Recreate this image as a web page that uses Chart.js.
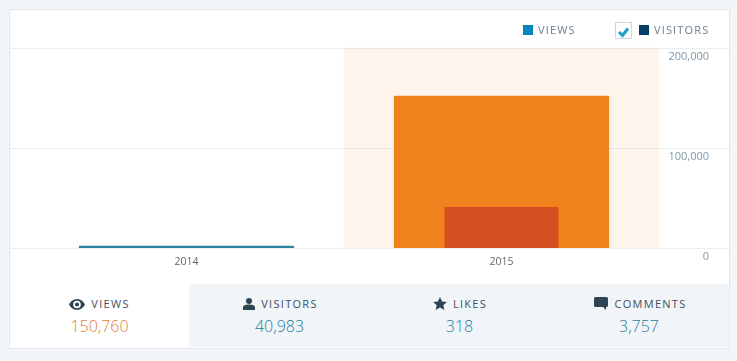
<!DOCTYPE html>
<html>
<head>
<meta charset="utf-8">
<script src="https://cdn.jsdelivr.net/npm/chart.js@4"></script>
<style>
  html, body { margin: 0; padding: 0; background: #f3f6f8; }
  body { width: 737px; height: 361px; overflow: hidden; position: relative; font-family: "Open Sans", sans-serif; }
  .card { position: absolute; left: 9px; top: 9px; width: 719px; height: 338px; background: #fff; border: 1px solid #e1e7ec; }
  .wrap { position: absolute; left: 10px; top: 33px; width: 719px; height: 251px; }
  .legend { position: absolute; top: 23px; font-size: 11px; letter-spacing: 1.15px; color: #6d7f8e; line-height: 14px; }
  .swatch { position: absolute; top: 25px; width: 10px; height: 10px; }
  .check { position: absolute; left: 615px; top: 22px; width: 15px; height: 15px; border: 1px solid #c8d7e1; }
  .tabs { position: absolute; left: 10px; top: 284px; width: 719px; height: 63px; }
  .tab { position: absolute; top: 0; height: 63px; text-align: center; }
  .tab .label { position: absolute; top: 12px; left: 0; right: 0; font-size: 11px; letter-spacing: 1.3px; color: #3d4f5e; line-height: 16px; }
  .tab .value { position: absolute; top: 31px; left: 0; right: 0; font-size: 16px; font-weight: 300; line-height: 22px; color: #1f7da6; }
  .tab svg { vertical-align: -2px; margin-right: 6px; }
</style>
</head>
<body>
<div class="card"></div>
<div class="wrap"><canvas id="chart" width="719" height="251"></canvas></div>

<div class="swatch" style="left:523px;background:#0a85bb"></div>
<div class="legend" style="left:538px">VIEWS</div>
<div class="check"><svg width="15" height="15" viewBox="0 0 15 15"><path d="M3 7 L6.5 10.5 L12 3.5" fill="none" stroke="#1a9fc9" stroke-width="3"/></svg></div>
<div class="swatch" style="left:639px;background:#063f66"></div>
<div class="legend" style="left:654px">VISITORS</div>

<div class="tabs">
  <div class="tab" style="left:0;width:179px;background:#fff">
    <div class="label"><svg width="16" height="11" viewBox="0 0 16 11"><path d="M8 0C4.5 0 1.6 2.2 0 5.5 1.6 8.8 4.5 11 8 11s6.4-2.2 8-5.5C14.4 2.2 11.5 0 8 0zm0 9.3a3.8 3.8 0 1 1 0-7.6 3.8 3.8 0 0 1 0 7.6zM8 3.4a2.1 2.1 0 1 0 0 4.2 2.1 2.1 0 0 0 0-4.2z" fill="#2e4453"/></svg>VIEWS</div>
    <div class="value" style="color:#e67a35">150,760</div>
  </div>
  <div class="tab" style="left:179px;width:180px;background:#f1f5f8">
    <div class="label" style="left:3px"><svg width="12" height="12" viewBox="0 0 12 12"><circle cx="6" cy="3" r="3" fill="#2e4453"/><path d="M0 12V9.5C0 7.5 2 6.5 6 6.5s6 1 6 3V12z" fill="#2e4453"/></svg>VISITORS</div>
    <div class="value" style="left:1px">40,983</div>
  </div>
  <div class="tab" style="left:359px;width:180px;background:#f1f5f8">
    <div class="label" style="left:2px"><svg width="14" height="13" viewBox="0 0 14 13"><path d="M7 0l2.1 4.6 4.9.5-3.7 3.2 1.1 4.7L7 10.6 2.6 13l1.1-4.7L0 5.1l4.9-.5z" fill="#2e4453"/></svg>LIKES</div>
    <div class="value" style="left:1px">318</div>
  </div>
  <div class="tab" style="left:539px;width:180px;background:#f1f5f8">
    <div class="label" style="left:3px"><svg width="14" height="13" viewBox="0 0 14 13"><path d="M1.5 0h11A1.5 1.5 0 0 1 14 1.5v7A1.5 1.5 0 0 1 12.5 10H12v3L9 10H1.5A1.5 1.5 0 0 1 0 8.5v-7A1.5 1.5 0 0 1 1.5 0z" fill="#2e4453"/></svg>COMMENTS</div>
    <div class="value">3,757</div>
  </div>
</div>

<script>
const years = ['2014', '2015'];
const views = [2200, 152000];
const visitors = [null, 41000];
const highlight = [null, 200000];
const yTicks = [0, 100000, 200000];

// grid lines run the full width of the card, past the plot on both sides
const sideGrid = {
  id: 'sideGrid',
  beforeDatasetsDraw(chart) {
    const { ctx, scales } = chart;
    ctx.save();
    ctx.strokeStyle = '#e9eef1';
    ctx.lineWidth = 1;
    yTicks.forEach((t) => {
      const y = Math.round(scales.y.getPixelForValue(t)) + 0.5;
      ctx.beginPath();
      ctx.moveTo(0, y);
      ctx.lineTo(chart.width, y);
      ctx.stroke();
    });
    ctx.restore();
  },
};

new Chart(document.getElementById('chart'), {
  type: 'bar',
  data: {
    labels: years,
    datasets: [
      {
        label: 'Visitors',
        data: visitors,
        backgroundColor: '#d54e21',
        grouped: false,
        order: 1,
        categoryPercentage: 1,
        barPercentage: 0.362,
      },
      {
        label: 'Views',
        data: views,
        backgroundColor: ['#2e85a0', '#f0821e'],
        grouped: false,
        order: 2,
        categoryPercentage: 1,
        barPercentage: 0.683,
      },
      {
        label: 'Selected',
        data: highlight,
        backgroundColor: 'rgba(240, 130, 30, 0.09)',
        grouped: false,
        order: 3,
        categoryPercentage: 1,
        barPercentage: 1,
      },
    ],
  },
  options: {
    responsive: false,
    animation: false,
    layout: { padding: { left: 19, top: 0, right: 20, bottom: 0 } },
    plugins: {
      legend: { display: false },
      tooltip: { enabled: false },
    },
    scales: {
      x: {
        grid: { display: false, drawTicks: false },
        border: { display: false },
        afterFit: (scale) => { scale.height = 36; },
        ticks: {
          color: '#666',
          padding: 8,
          maxRotation: 0,
          font: { family: '"Open Sans"', size: 10.5 },
        },
      },
      y: {
        position: 'right',
        min: 0,
        max: 200000,
        grid: { display: false, drawTicks: false },
        border: { display: false },
        afterFit: (scale) => { scale.width = 50; },
        afterBuildTicks: (scale) => { scale.ticks = yTicks.map((value) => ({ value })); },
        ticks: {
          color: '#8197a7',
          padding: 8,
          labelOffset: 9,
          crossAlign: 'far',
          font: { family: '"Open Sans"', size: 11 },
          callback: (v) => v.toLocaleString('en-US'),
        },
      },
    },
  },
  plugins: [sideGrid],
});
</script>
</body>
</html>
